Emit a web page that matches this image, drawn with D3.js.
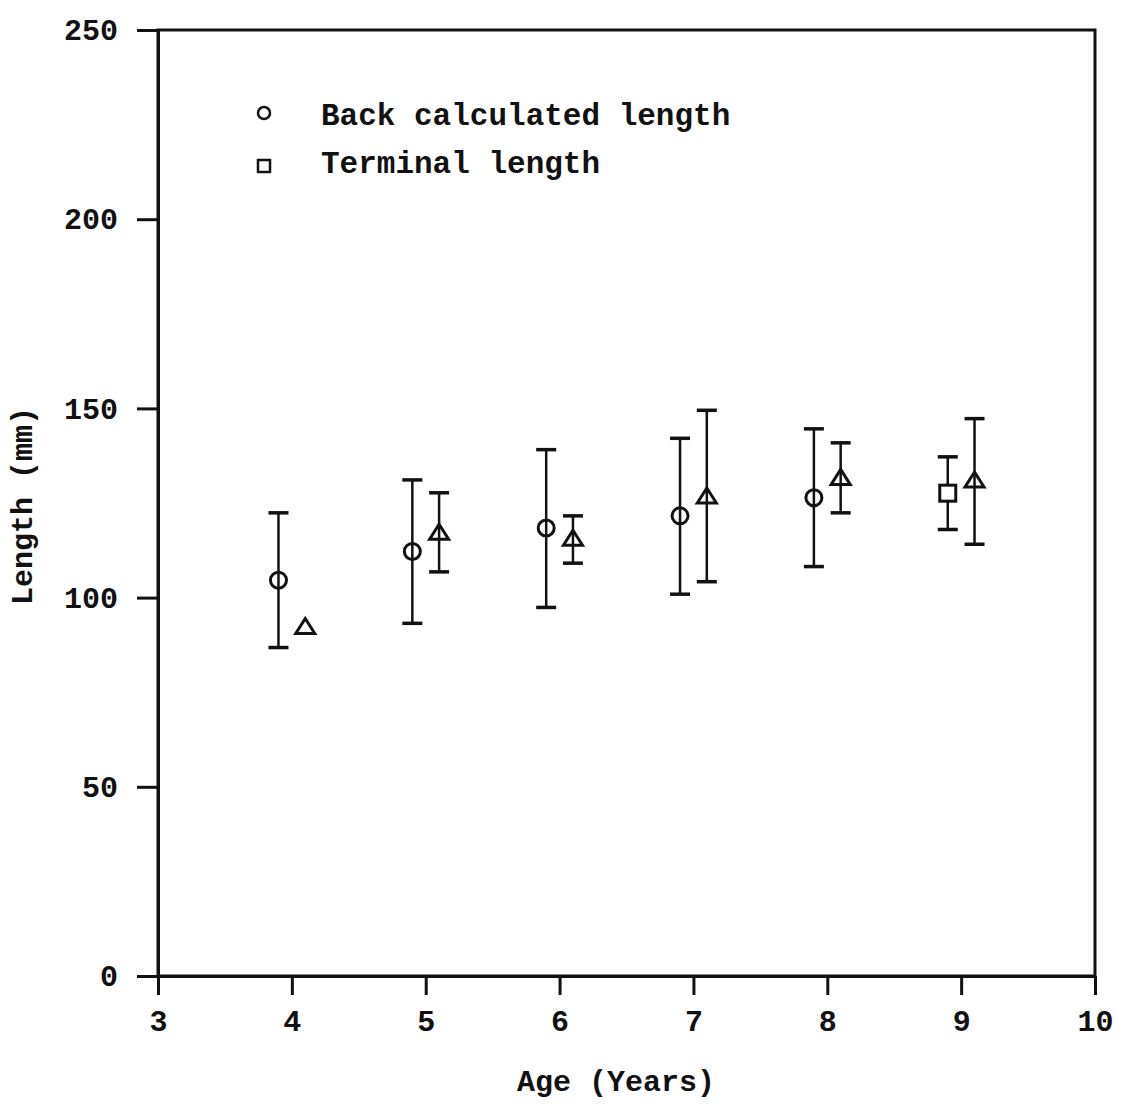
<!DOCTYPE html>
<html lang="en">
<head>
    <meta charset="UTF-8">
    <title>Length at age</title>
    <style>
        body { margin: 0; background: #fff; }
        text { font-family: "Liberation Mono", "Courier New", monospace; font-weight: bold; fill: #111; }
    </style>
</head>
<body>
    <svg id="chart" width="1135" height="1104"></svg>
    <script src="https://d3js.org/d3.v7.min.js"></script>
    <script>
        // values
        const backAges  = [4, 5, 6, 7, 8];
        const backMean  = [104.6, 112.2, 118.4, 121.6, 126.4];
        const backHigh  = [122.4, 131.1, 139.1, 142.1, 144.6];
        const backLow   = [86.8, 93.2, 97.4, 100.9, 108.2];

        const triAges   = [4, 5, 6, 7, 8, 9];
        const triMean   = [92.5, 117.4, 115.8, 127.0, 131.9, 131.2];
        const triHigh   = [null, 127.7, 121.6, 149.5, 140.9, 147.3];
        const triLow    = [null, 106.8, 109.1, 104.2, 122.4, 114.1];

        const termAges  = [9];
        const termMean  = [127.6];
        const termHigh  = [137.2];
        const termLow   = [118.0];

        const xTicks = [3, 4, 5, 6, 7, 8, 9, 10];
        const yTicks = [0, 50, 100, 150, 200, 250];

        const svg = d3.select("#chart");
        const plotL = 158, plotR = 1095, plotT = 30, plotB = 976;

        const x = d3.scaleLinear().domain([3, 10]).range([plotL, plotR]);
        const y = d3.scaleLinear().domain([0, 250]).range([plotB, plotT]);

        // frame
        svg.append("rect")
            .attr("x", plotL).attr("y", plotT)
            .attr("width", plotR - plotL).attr("height", plotB - plotT)
            .attr("fill", "none").attr("stroke", "#111").attr("stroke-width", 3);

        const xAxis = svg.append("g")
            .attr("transform", `translate(0,${plotB})`)
            .call(d3.axisBottom(x).tickValues(xTicks).tickFormat(d3.format("d"))
                .tickSize(19).tickSizeOuter(0).tickPadding(15));
        const yAxis = svg.append("g")
            .attr("transform", `translate(${plotL},0)`)
            .call(d3.axisLeft(y).tickValues(yTicks).tickFormat(d3.format("d"))
                .tickSize(21).tickSizeOuter(0).tickPadding(19));

        [xAxis, yAxis].forEach(g => {
            g.select(".domain").attr("stroke", "#111").attr("stroke-width", 3);
            g.selectAll(".tick line").attr("stroke", "#111").attr("stroke-width", 3);
            g.selectAll(".tick text").style("font-size", "30px").attr("fill", "#111");
        });

        // axis titles
        svg.append("text")
            .attr("x", 616).attr("y", 1091)
            .attr("text-anchor", "middle")
            .style("font-size", "30px")
            .text("Age (Years)");
        svg.append("text")
            .attr("transform", "translate(32,506) rotate(-90)")
            .attr("text-anchor", "middle")
            .style("font-size", "30px")
            .text("Length (mm)");

        const dodge = 0.1; // offset of series within each age
        const ink = "#111";

        function errorBars(ages, mean, high, low, off) {
            const g = svg.append("g").attr("stroke", ink);
            ages.forEach((a, i) => {
                if (high[i] == null) return;
                const cx = x(a + off);
                g.append("line").attr("x1", cx).attr("x2", cx)
                    .attr("y1", y(high[i])).attr("y2", y(low[i])).attr("stroke-width", 2.5);
                [high[i], low[i]].forEach(v => {
                    g.append("line").attr("x1", cx - 10).attr("x2", cx + 10)
                        .attr("y1", y(v)).attr("y2", y(v)).attr("stroke-width", 3.5);
                });
            });
        }

        errorBars(backAges, backMean, backHigh, backLow, -dodge);
        errorBars(triAges, triMean, triHigh, triLow, dodge);
        errorBars(termAges, termMean, termHigh, termLow, -dodge);

        // markers
        svg.append("g").selectAll("circle")
            .data(backAges)
            .join("circle")
            .attr("cx", (d) => x(d - dodge))
            .attr("cy", (d, i) => y(backMean[i]))
            .attr("r", 8)
            .attr("fill", "none").attr("stroke", ink).attr("stroke-width", 3);

        const tri = "M0,-7.5L9.5,7.5L-9.5,7.5Z";
        svg.append("g").selectAll("path")
            .data(triAges)
            .join("path")
            .attr("d", tri)
            .attr("transform", (d, i) => `translate(${x(d + dodge)},${y(triMean[i])})`)
            .attr("fill", "none").attr("stroke", ink).attr("stroke-width", 3)
            .attr("stroke-linejoin", "miter");

        svg.append("g").selectAll("rect")
            .data(termAges)
            .join("rect")
            .attr("x", (d) => x(d - dodge) - 8)
            .attr("y", (d, i) => y(termMean[i]) - 8)
            .attr("width", 16).attr("height", 16)
            .attr("fill", "#fff").attr("stroke", ink).attr("stroke-width", 3);

        // legend
        const legend = svg.append("g");
        legend.append("circle").attr("cx", 264).attr("cy", 113).attr("r", 6)
            .attr("fill", "none").attr("stroke", ink).attr("stroke-width", 2.5);
        legend.append("rect").attr("x", 258).attr("y", 160).attr("width", 12).attr("height", 12)
            .attr("fill", "none").attr("stroke", ink).attr("stroke-width", 2.5);
        legend.append("text").attr("x", 321).attr("y", 125)
            .style("font-size", "31px").text("Back calculated length");
        legend.append("text").attr("x", 321).attr("y", 173)
            .style("font-size", "31px").text("Terminal length");
    </script>
</body>
</html>
